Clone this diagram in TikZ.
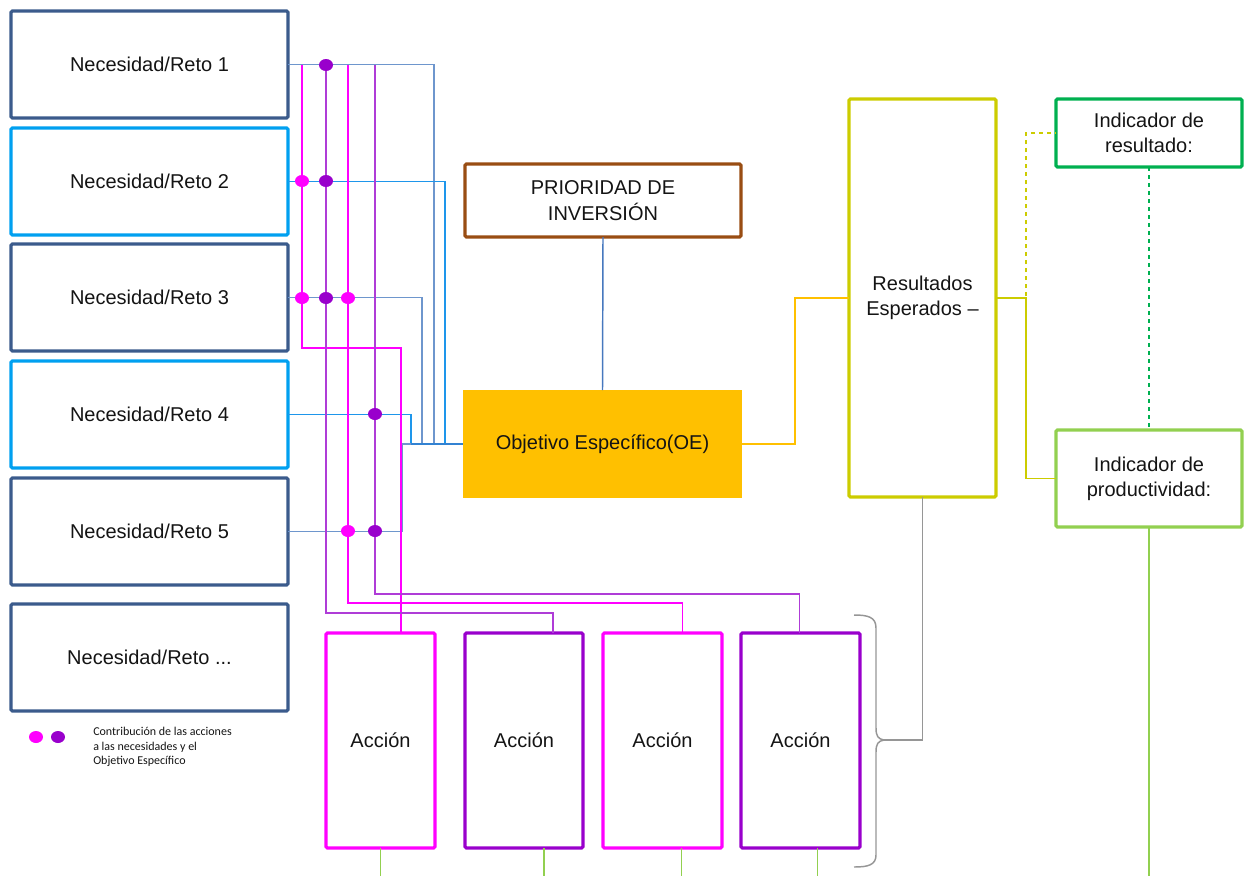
\documentclass[tikz,border=0pt]{standalone}
\usepackage{fontspec}
\setmainfont{Liberation Sans}
\newfontfamily\legfont{Carlito}
\usetikzlibrary{calc,shapes.geometric}
\definecolor{dkblue}{RGB}{59,91,140}
\definecolor{brblue}{RGB}{0,160,240}
\definecolor{lnAc}{RGB}{110,150,205}
\definecolor{lnBc}{RGB}{30,150,235}
\definecolor{oelc}{RGB}{50,130,210}
\definecolor{pkc}{RGB}{255,0,255}
\definecolor{pulc}{RGB}{175,60,215}
\definecolor{puc}{RGB}{153,0,204}
\definecolor{brownc}{RGB}{153,77,19}
\definecolor{oefill}{RGB}{255,192,0}
\definecolor{olivec}{RGB}{204,204,0}
\definecolor{grnc}{RGB}{0,176,80}
\definecolor{lgrnc}{RGB}{146,208,80}
\definecolor{grayc}{RGB}{150,150,150}
\definecolor{pril}{RGB}{70,120,190}
\definecolor{txt}{RGB}{20,20,20}
\begin{document}
\begin{tikzpicture}[x=0.75pt,y=-0.75pt,
  bigfont/.style={font=\fontsize{15}{19}\selectfont, text=txt},
  bx/.style={draw=#1, line width=2.4pt, inner sep=0pt, outer sep=0pt, align=center, rounded corners=1pt, bigfont},
  nsize/.style={minimum width=207.75pt, minimum height=80.25pt},
  asize/.style={minimum width=#1, minimum height=161.25pt},
  lnA/.style={draw=lnAc, line width=1.1pt},
  lnB/.style={draw=lnBc, line width=1.1pt},
  pkl/.style={draw=pkc, line width=1.2pt},
  pul/.style={draw=pulc, line width=1.2pt},
  dotpk/.style={ellipse, fill=pkc, inner sep=0pt, minimum width=10.5pt, minimum height=9pt},
  dotpu/.style={ellipse, fill=puc, inner sep=0pt, minimum width=10.5pt, minimum height=9pt},
  grl/.style={draw=lgrnc, line width=1.1pt},
  gryl/.style={draw=grayc, line width=1.1pt},
]
\useasboundingbox (0,0) rectangle (1246,876);

% Necesidad boxes
\node[bx=dkblue, nsize] (n1) at (149.5,64.5) {Necesidad/Reto 1};
\node[bx=brblue, nsize] (n2) at (149.5,181.5) {Necesidad/Reto 2};
\node[bx=dkblue, nsize] (n3) at (149.5,297.5) {Necesidad/Reto 3};
\node[bx=brblue, nsize] (n4) at (149.5,414.5) {Necesidad/Reto 4};
\node[bx=dkblue, nsize] (n5) at (149.5,531.5) {Necesidad/Reto 5};
\node[bx=dkblue, nsize] (n6) at (149.5,657.5) {Necesidad/Reto ...};

% central boxes
\node[bx=brownc, minimum width=207pt, minimum height=54.75pt] (pri) at (603,200.5) {PRIORIDAD DE\\INVERSIÓN};
\node[fill=oefill, draw=none, inner sep=0pt, outer sep=0pt, bigfont, minimum width=209.25pt, minimum height=81pt] (oe) at (602.5,444) {Objetivo Específico(OE)};
\node[bx=olivec, minimum width=110.25pt, minimum height=298.5pt] (res) at (922.5,298) {Resultados\\Esperados –};
\node[bx=grnc, minimum width=139.5pt, minimum height=51pt] (ir) at (1149,133) {Indicador de\\resultado:};
\node[bx=lgrnc, minimum width=139.5pt, minimum height=72.75pt] (ip) at (1149,478.5) {Indicador de\\productividad:};

% Acciones
\node[bx=pkc, asize=81.75pt] (a1) at (380.5,740.5) {Acción};
\node[bx=puc, asize=88.5pt] (a2) at (524,740.5) {Acción};
\node[bx=pkc, asize=89.25pt] (a3) at (662.5,740.5) {Acción};
\node[bx=puc, asize=89.25pt] (a4) at (800.5,740.5) {Acción};

% junction coordinates
\coordinate (b402) at (402,444);
\coordinate (b411) at (411,444);
\coordinate (b422) at (422,444);
\coordinate (b434) at (434,444);
\coordinate (b445) at (445,444);
\coordinate (t1) at (302,65);
\coordinate (t2) at (326,65);
\coordinate (t3) at (348,65);
\coordinate (t4) at (375,65);

% necesidad connectors
\draw[lnA] (n1.east) -| (b434);
\draw[lnB] (n2.east) -| (b445);
\draw[lnA] (n3.east) -| (b422);
\draw[lnB] (n4.east) -| (b411);
\draw[lnA] (n5.east) -| (b402) -- (b411);
\draw[draw=oelc, line width=2pt] (b411) -- (oe.west);

% action connectors
\draw[pkl] (t1) |- ($(a1.north)+(20.5,-285)$) -- ++(0,285);
\draw[pul] (t2) |- ($(a2.north)+(29,-20)$) -- ++(0,20);
\draw[pkl] (t3) |- ($(a3.north)+(20,-30)$) -- ++(0,30);
\draw[pul] (t4) |- ($(a4.north)+(-1,-39)$) -- ++(0,39);

% dots
\node[dotpu] (d1) at (326,65) {};
\node[dotpu] (d2) at (326,181) {};
\node[dotpu] (d3) at (326,298) {};
\node[dotpu] (d4) at (375,414) {};
\node[dotpu] (d5) at (375,531) {};
\node[dotpk] (d6) at (302,181) {};
\node[dotpk] (d7) at (302,298) {};
\node[dotpk] (d8) at (348,298) {};
\node[dotpk] (d9) at (348,531) {};

% prioridad - OE
\draw[draw=pril, line width=1.1pt] (pri.south) -- (oe.north);
% OE - resultados
\draw[draw=oefill, line width=1.1pt] (oe.east) -- ++(53,0) |- (res.west);
% resultados - indicadores
\draw[draw=olivec, line width=1.1pt] (res.east) -- ++(30,0) |- (ip.west);
\draw[draw=olivec, line width=1.1pt, dashed] (res.east) -- ++(30,0) |- (ir.west);
\draw[draw=grnc, line width=1.1pt, dashed] (ir.south) -- (ip.north);
\coordinate (ipend) at (1149,876);
\draw[grl] (ip.south) -- (ipend);

% green lines below actions
\draw[grl] (a1.south) -- ++(0,28);
\draw[grl] ($(a2.south)+(20,0)$) -- ++(0,28);
\draw[grl] ($(a3.south)+(19,0)$) -- ++(0,28);
\draw[grl] ($(a4.south)+(17,0)$) -- ++(0,28);

% brace and link to resultados
\coordinate (btip) at (884,740);
\draw[gryl] (res.south) |- (btip);
\draw[gryl] (854,615) .. controls (868,615) and (876,617) .. (876,628) -- (876,728)
  .. controls (876,736) and (878,739) .. (btip)
  .. controls (878,741) and (876,744) .. (876,752) -- (876,855)
  .. controls (876,865) and (868,867) .. (854,867);

% legend
\node[dotpk] (lg1) at (36,737) {};
\node[dotpu] (lg2) at (58,737) {};
\node[anchor=west, align=left, font=\legfont\fontsize{9}{11}\selectfont, text=txt, inner sep=0pt] (lgt) at (93,747) {Contribución de las acciones\\a las necesidades y el\\Objetivo Específico};
\end{tikzpicture}
\end{document}
